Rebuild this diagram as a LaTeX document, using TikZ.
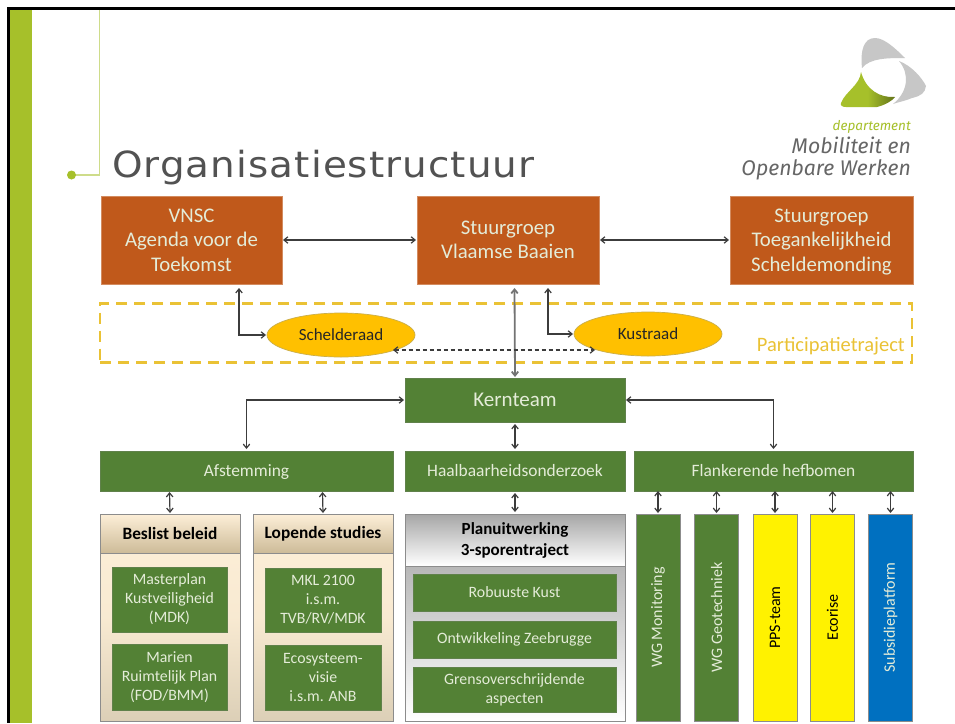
\documentclass[tikz,border=0pt]{standalone}
\usepackage{fontspec}
\setmainfont{Carlito}
\newfontfamily\titlefont[LetterSpace=3,FakeStretch=1.08]{DejaVu Sans}
\newfontfamily\logofont{Fira Sans}
\usetikzlibrary{arrows.meta,shapes.geometric,shadows}
\definecolor{rust}{HTML}{C0591B}
\definecolor{leaf}{HTML}{538135}
\definecolor{limebar}{HTML}{A6C02A}
\definecolor{dashgold}{HTML}{EAC235}
\definecolor{amber}{HTML}{FFC000}
\definecolor{paletxt}{HTML}{E4ECD8}
\definecolor{cream}{HTML}{FDEFD8}
\definecolor{tan}{HTML}{CDBB98}
\definecolor{panelline}{HTML}{8C8C8C}
\definecolor{arrowgrey}{HTML}{3C3C3C}
\definecolor{subblue}{HTML}{0070C0}
\tikzset{
  x=1pt,y=-1pt,
  basebox/.style={rectangle,inner sep=0pt,outer sep=0pt,align=center,font=\fontsize{15.8}{19}\selectfont},
  orangebox/.style={basebox,fill=rust,draw=rust!70!white,line width=.6pt,text=paletxt,font=\fontsize{20.8}{24.5}\selectfont,minimum height=88pt},
  greenbox/.style={basebox,fill=leaf,draw=leaf!70!gray,line width=.8pt,text=paletxt},
  singleline/.style={text height=15pt,text depth=4pt},
  councilnode/.style={ellipse,inner sep=0pt,outer sep=0pt,fill=amber,draw=dashgold!70!gray,line width=.7pt,text=black!85,font=\fontsize{17}{19}\selectfont,minimum width=148pt,minimum height=44pt},
  panelbody/.style={basebox,draw=panelline,line width=1pt,top color=cream,bottom color=tan!70!white,middle color=cream!90!tan},
  panelhead/.style={basebox,draw=panelline,line width=.8pt,top color=cream,bottom color=tan,text=black,font=\bfseries\fontsize{17.3}{21}\selectfont},
  greybody/.style={basebox,draw=panelline,line width=1pt,top color=gray!75,bottom color=white},
  greyhead/.style={basebox,draw=panelline,line width=.8pt,top color=gray!70,bottom color=white,text=black,font=\bfseries\fontsize{17}{21}\selectfont},
  strip/.style={basebox,minimum width=44pt,minimum height=207pt,draw=panelline,line width=.8pt,font=\fontsize{16}{19}\selectfont},
  twoway/.style={draw=arrowgrey,line width=1.2pt,{Straight Barb[length=4pt,width=6.5pt]}-{Straight Barb[length=4pt,width=6.5pt]}},
}
\begin{document}
\begin{tikzpicture}
\useasboundingbox (0,0) rectangle (955,723);
\fill[white] (0,0) rectangle (955,723);
% slide frame
\fill[limebar] (10,9) rectangle (32,723);
\fill[black] (7,7) rectangle (955,10);
\fill[black] (7,7) rectangle (10,723);
% title decoration
\draw[limebar!55!white,line width=1.1pt] (99.5,10) -- (99.5,175) -- (72,175);
\fill[limebar] (71.5,175) circle (4.5);
\node[anchor=base west,inner sep=0pt,text=black!68,font=\titlefont\fontsize{36}{40}\selectfont] (title) at (112,177) {Organisatiestructuur};
% logo
\fill[black!22] (862,68) .. controls (860,50) and (864,38) .. (875,38) .. controls (884,38) and (895,48) .. (905,58) .. controls (888,58) and (870,58) .. (862,68) -- cycle;
\fill[black!22] (899,61) .. controls (912,66) and (922,78) .. (926,86) .. controls (925,93) and (921,96) .. (912,98) .. controls (905,101) and (895,103) .. (893,104) .. controls (908,92) and (910,74) .. (899,61) -- cycle;
\shade[left color=limebar,right color=limebar!60!black,middle color=limebar] (861,72) .. controls (860,85) and (845,92) .. (841,103) .. controls (840,106) and (843,107) .. (846,107) -- (877,107) .. controls (885,105) and (892,101) .. (895,97) .. controls (880,98) and (866,90) .. (861,72) -- cycle;
\node[anchor=base east,inner sep=0pt,text=limebar,font=\logofont\itshape\fontsize{13.5}{16}\selectfont] (dept) at (911,130) {departement};
\node[anchor=base east,inner sep=0pt,text=black!60,font=\logofont\itshape\fontsize{21.2}{24}\selectfont] (mow1) at (911,153) {Mobiliteit en};
\node[anchor=base east,inner sep=0pt,text=black!60,font=\logofont\itshape\fontsize{21.2}{24}\selectfont] (mow2) at (911,175) {Openbare Werken};
% steering row
\node[orangebox,minimum width=181pt] (vnsc) at (191.5,240) {VNSC\\Agenda voor de\\Toekomst};
\node[orangebox,minimum width=182pt] (vb) at (508,240) {Stuurgroep\\Vlaamse Baaien};
\node[orangebox,minimum width=183pt] (st) at (821.5,240) {\rule{0pt}{.8em}Stuurgroep\\Toegankelijkheid\\Scheldemonding};
% participation
\node[rectangle,draw=dashgold,line width=2.5pt,dash pattern=on 11pt off 7pt,minimum width=812pt,minimum height=59pt,inner sep=0pt,outer sep=0pt] (part) at (506,333) {};
\node[councilnode] (schelde) at (341,335) {Schelderaad};
\node[councilnode] (kust) at (648,334) {Kustraad};
\node[anchor=east,inner sep=0pt,text=dashgold,font=\fontsize{20.5}{22}\selectfont] (parttext) at (905,346) {Participatietraject};
% core
\node[greenbox,singleline,text height=17pt,minimum width=220pt,minimum height=44pt,font=\fontsize{21}{24}\selectfont] (kern) at (515,400) {Kernteam};
\node[greenbox,singleline,minimum width=293pt,minimum height=40pt,font=\fontsize{17.4}{20}\selectfont] (afst) at (246.5,471) {Afstemming};
\node[greenbox,singleline,minimum width=220pt,minimum height=40pt,font=\fontsize{17.4}{20}\selectfont] (haal) at (515,471) {Haalbaarheidsonderzoek};
\node[greenbox,singleline,minimum width=279pt,minimum height=40pt,font=\fontsize{17.4}{20}\selectfont] (flank) at (773.5,471) {Flankerende hefbomen};
% panel 1
\node[panelbody,minimum width=140pt,minimum height=207pt] (besl) at (170,617.5) {};
\node[panelhead,minimum width=140pt,minimum height=39pt] (beslh) at (170,533.5) {Beslist beleid};
\node[greenbox,minimum width=115pt,minimum height=65pt] (mp) at (169.5,599.5) {Masterplan\\Kustveiligheid\\(MDK)};
\node[greenbox,minimum width=115pt,minimum height=66pt] (mr) at (169.5,677) {Marien\\Ruimtelijk Plan\\(FOD/BMM)};
% panel 2
\node[panelbody,minimum width=140pt,minimum height=207pt] (lop) at (323,617.5) {};
\node[panelhead,minimum width=140pt,minimum height=39pt] (loph) at (323,533.5) {Lopende studies};
\node[greenbox,minimum width=116pt,minimum height=64pt] (mkl) at (323,600) {MKL 2100\\i.s.m.\\TVB/RV/MDK};
\node[greenbox,minimum width=116pt,minimum height=65pt] (eco) at (323,677.5) {Ecosysteem-\\visie\\i.s.m. ANB};
% panel 3
\node[greybody,minimum width=220pt,minimum height=207pt] (plan) at (515,617.5) {};
\node[greyhead,minimum width=220pt,minimum height=52pt] (planh) at (515,540) {Planuitwerking\\3-sporentraject};
\node[greenbox,minimum width=203pt,minimum height=37pt] (rob) at (514.5,592.5) {Robuuste Kust};
\node[greenbox,minimum width=203pt,minimum height=37pt] (ont) at (514.5,639.5) {Ontwikkeling Zeebrugge};
\node[greenbox,minimum width=203pt,minimum height=45pt] (grens) at (514.5,689.5) {Grensoverschrijdende\\aspecten};
% strips
\node[strip,fill=leaf,text=paletxt] (wgm) at (658,617.5) {\rotatebox{90}{WG Monitoring}};
\node[strip,fill=leaf,text=paletxt] (wgg) at (716.5,617.5) {\rotatebox{90}{WG Geotechniek}};
\node[strip,fill=yellow,text=black] (pps) at (775,617.5) {\rotatebox{90}{PPS-team}};
\node[strip,fill=yellow,text=black] (ecor) at (832.5,617.5) {\rotatebox{90}{Ecorise}};
\node[strip,fill=subblue,text=paletxt] (sub) at (890.5,617.5) {\rotatebox{90}{Subsidieplatform}};
% connectors
\draw[twoway] ([xshift=1pt]vnsc.east) -- ([xshift=-1pt]vb.west);
\draw[twoway] ([xshift=1pt]vb.east) -- ([xshift=-1pt]st.west);
\draw[twoway] ([xshift=47.5pt,yshift=-4pt]vnsc.south) |- ([xshift=-1pt]schelde.west);
\draw[twoway] ([xshift=40pt,yshift=-4pt]vb.south) |- ([xshift=-1pt]kust.west);
\draw[twoway,draw=black!55,line width=1.8pt] ([xshift=6.5pt,yshift=-4pt]vb.south) -- ([yshift=1pt]kern.north);
\draw[twoway,line width=1.2pt,dash pattern=on 4pt off 3pt] ([xshift=-22pt,yshift=-15pt]schelde.east) -- ([xshift=-127pt,yshift=-16pt]kust.east);
\draw[twoway] ([xshift=-1pt]kern.west) -| ([yshift=2pt]afst.north);
\draw[twoway] ([xshift=1pt]kern.east) -| ([yshift=2pt]flank.north);
\draw[twoway] ([yshift=-2pt]kern.south) -- ([yshift=2pt]haal.north);
\draw[twoway] ([yshift=-2pt]haal.south) -- ([yshift=2pt]plan.north);
\draw[twoway] ([yshift=-1pt,xshift=-77pt]afst.south) -- ([yshift=1pt]beslh.north);
\draw[twoway] ([yshift=-1pt,xshift=76pt]afst.south) -- ([yshift=1pt]loph.north);
\draw[twoway] (flank.south -| wgm.north) -- ([yshift=1pt]wgm.north);
\draw[twoway] (flank.south -| wgg.north) -- ([yshift=1pt]wgg.north);
\draw[twoway] (flank.south -| pps.north) -- ([yshift=1pt]pps.north);
\draw[twoway] (flank.south -| ecor.north) -- ([yshift=1pt]ecor.north);
\draw[twoway] (flank.south -| sub.north) -- ([yshift=1pt]sub.north);
\end{tikzpicture}
\end{document}
